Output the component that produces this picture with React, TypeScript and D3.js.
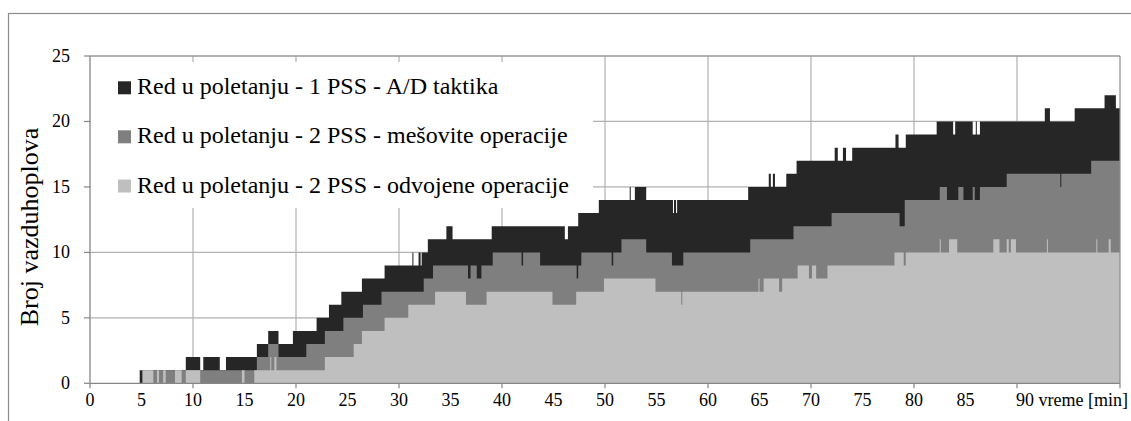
import React, { useEffect, useRef } from "react";
import * as d3 from "d3";

// [time (min), number of aircraft] – value holds until the next change
const darkSteps: [number, number][] = [
  [0, 0], [4.8, 1], [9.3, 2], [10.7, 1], [11.0, 2], [12.6, 1], [13.2, 2], [16.2, 3], [17.3, 4], [18.3, 3],
  [19.7, 4], [22.0, 5], [23.2, 6], [24.4, 7], [26.4, 8], [28.6, 9], [31.3, 10], [31.4, 9], [31.9, 10], [32.1, 9],
  [32.2, 10], [32.8, 11], [34.6, 12], [35.2, 11], [39.0, 12], [46.1, 11], [46.4, 12], [47.4, 13], [49.4, 14],
  [52.4, 15], [52.5, 14], [52.9, 15], [54.0, 14], [56.6, 13], [56.7, 14], [56.9, 13], [57.0, 14], [63.9, 15],
  [65.9, 16], [66.1, 15], [66.3, 16], [66.5, 15], [67.6, 16], [68.6, 17], [72.3, 18], [72.6, 17], [73.1, 18],
  [73.4, 17], [74.0, 18], [78.2, 19], [78.5, 18], [79.2, 19], [82.2, 20], [83.8, 19], [84.0, 20], [85.7, 19],
  [86.0, 20], [86.1, 19], [86.4, 20], [92.7, 21], [93.2, 20], [95.6, 21], [98.5, 22], [99.6, 21], [100, 21],
];

const mediumSteps: [number, number][] = [
  [0, 0], [5.1, 1], [16.2, 2], [17.3, 3], [18.3, 2], [21.0, 3], [22.8, 4], [24.6, 5], [26.5, 6], [28.3, 7],
  [32.4, 8], [33.3, 9], [36.7, 8], [36.95, 9], [37.55, 8], [38.0, 9], [39.1, 10], [41.9, 9], [42.05, 10],
  [43.7, 9], [47.25, 8], [47.4, 9], [47.7, 10], [50.65, 9], [50.8, 10], [51.6, 11], [54.0, 10], [56.5, 9],
  [57.6, 10], [64.1, 11], [68.3, 12], [72.0, 13], [78.6, 12], [79.1, 14], [82.5, 15], [83.2, 14], [84.3, 15],
  [84.8, 14], [85.7, 15], [85.9, 14], [86.4, 15], [89.0, 16], [94.2, 15], [94.3, 16], [97.2, 17], [100, 17],
];

const lightSteps: [number, number][] = [
  [0, 0], [4.75, 1], [4.85, 0], [5.1, 1], [6.15, 0], [6.5, 1], [6.7, 0], [7.1, 1], [7.35, 0], [8.25, 1],
  [8.9, 0], [9.3, 1], [10.7, 0], [14.75, 1], [15.0, 0], [15.95, 1], [17.5, 2], [17.6, 1], [17.9, 2], [18.1, 1],
  [22.8, 2], [25.6, 3], [26.4, 4], [28.6, 5], [30.9, 6], [33.5, 7], [36.5, 6], [38.5, 7], [44.9, 6], [47.2, 7],
  [49.9, 8], [54.9, 7], [57.4, 6], [57.5, 7], [64.9, 8], [65.0, 7], [65.4, 8], [66.9, 7], [67.2, 8], [68.7, 9],
  [69.8, 8], [70.1, 9], [70.5, 8], [71.6, 9], [78.1, 10], [79.0, 9], [79.2, 10], [82.5, 11], [82.6, 10],
  [83.4, 11], [84.2, 10], [87.7, 11], [88.3, 10], [89.0, 11], [89.2, 10], [89.4, 11], [89.9, 10], [92.9, 11],
  [93.0, 10], [97.7, 11], [97.8, 10], [98.9, 11], [99.1, 10], [100, 10],
];

const seriesNames = [
  "Red u poletanju - 1 PSS - A/D taktika",
  "Red u poletanju - 2 PSS - mešovite operacije",
  "Red u poletanju - 2 PSS - odvojene operacije",
];
const seriesColors = ["#262626", "#7f7f7f", "#bfbfbf"];

const xLabelValues = [0, 5, 10, 15, 20, 25, 30, 35, 40, 45, 50, 55, 60, 65, 70, 75, 80, 85];
const xLastLabel = "90 vreme [min]";
const xLastLabelValue = 90;
const xTickValues = [0, 10, 20, 30, 40, 50, 60, 70, 80, 90, 100];
const yTickValues = [0, 5, 10, 15, 20, 25];
const yTitle = "Broj vazduhoplova";

const FONT = "'Liberation Serif', 'Times New Roman', serif";

export default function App() {
  const ref = useRef<SVGSVGElement>(null);

  useEffect(() => {
    const svg = d3.select(ref.current);
    svg.selectAll("*").remove();

    const L = 90, R = 1120, T = 56, B = 383.3;
    const x = d3.scaleLinear().domain([0, 100]).range([L, R]);
    const y = d3.scaleLinear().domain([0, 25]).range([B, T]);

    // outer frame
    svg.append("rect").attr("x", 8.5).attr("y", 13.5).attr("width", 1140).attr("height", 440)
      .attr("fill", "#fff").attr("stroke", "#8c8c8c").attr("stroke-width", 1.2);

    // gridlines
    const g = svg.append("g");
    g.selectAll("line.hg").data(yTickValues.filter(v => v > 0)).enter().append("line")
      .attr("x1", L).attr("x2", R).attr("y1", d => y(d)).attr("y2", d => y(d))
      .attr("stroke", "#b0b0b0").attr("stroke-width", 1.2);
    g.selectAll("line.vg").data(xTickValues.filter(v => v > 0 && v < 100)).enter().append("line")
      .attr("x1", d => x(d)).attr("x2", d => x(d)).attr("y1", T).attr("y2", B)
      .attr("stroke", "#b0b0b0").attr("stroke-width", 1.2);

    // legend box (white, covers gridlines)
    svg.append("rect").attr("x", 91).attr("y", 62).attr("width", 502).attr("height", 146).attr("fill", "#fff");

    // areas
    const area = d3.area<[number, number]>()
      .x(d => x(d[0])).y0(y(0)).y1(d => y(d[1])).curve(d3.curveStepAfter);
    [darkSteps, mediumSteps, lightSteps].forEach((s, i) => {
      svg.append("path").attr("d", area(s) as string).attr("fill", seriesColors[i]);
    });

    // plot border top/right
    svg.append("line").attr("x1", L).attr("x2", R).attr("y1", T).attr("y2", T).attr("stroke", "#8c8c8c").attr("stroke-width", 1.2);
    svg.append("line").attr("x1", R).attr("x2", R).attr("y1", T).attr("y2", B).attr("stroke", "#8c8c8c").attr("stroke-width", 1.2);

    // axes
    svg.append("line").attr("x1", L).attr("x2", L).attr("y1", T).attr("y2", B).attr("stroke", "#868686").attr("stroke-width", 1.3);
    svg.append("line").attr("x1", L).attr("x2", R).attr("y1", B).attr("y2", B).attr("stroke", "#868686").attr("stroke-width", 1.3);

    // y ticks
    svg.selectAll("line.yt").data(yTickValues).enter().append("line")
      .attr("x1", L - 6).attr("x2", L).attr("y1", d => y(d)).attr("y2", d => y(d))
      .attr("stroke", "#868686").attr("stroke-width", 1.2);
    svg.selectAll("text.yl").data(yTickValues).enter().append("text")
      .attr("x", 70).attr("y", d => y(d) + 6).attr("text-anchor", "end")
      .attr("font-family", FONT).attr("font-size", 18).attr("fill", "#000")
      .text(d => String(d));

    // x ticks
    svg.selectAll("line.xt").data(xTickValues).enter().append("line")
      .attr("x1", d => x(d)).attr("x2", d => x(d)).attr("y1", B).attr("y2", B + 5)
      .attr("stroke", "#868686").attr("stroke-width", 1.2);
    svg.selectAll("text.xl").data(xLabelValues).enter().append("text")
      .attr("x", d => x(d)).attr("y", 406).attr("text-anchor", "middle")
      .attr("font-family", FONT).attr("font-size", 18).attr("fill", "#000")
      .text(d => String(d));
    svg.append("text").attr("x", x(xLastLabelValue) - 1).attr("y", 406)
      .attr("font-family", FONT).attr("font-size", 18).attr("fill", "#000")
      .attr("xml:space", "preserve")
      .text(xLastLabel);

    // y title
    svg.append("text")
      .attr("transform", `translate(38, 227) rotate(-90)`)
      .attr("text-anchor", "middle")
      .attr("font-family", FONT).attr("font-size", 26).attr("fill", "#000")
      .text(yTitle);

    // legend
    const rowBase = [94.3, 143.3, 192.5];
    seriesNames.forEach((name, i) => {
      svg.append("rect").attr("x", 118).attr("y", rowBase[i] - 13).attr("width", 13).attr("height", 13)
        .attr("fill", seriesColors[i]);
      svg.append("text").attr("x", 137).attr("y", rowBase[i])
        .attr("font-family", FONT).attr("font-size", 24).attr("fill", "#000")
        .text(name);
    });
  }, []);

  return (
    <svg
      ref={ref}
      width={1131}
      height={421}
      style={{ position: "absolute", left: 0, top: 0, background: "#fff" }}
    />
  );
}
